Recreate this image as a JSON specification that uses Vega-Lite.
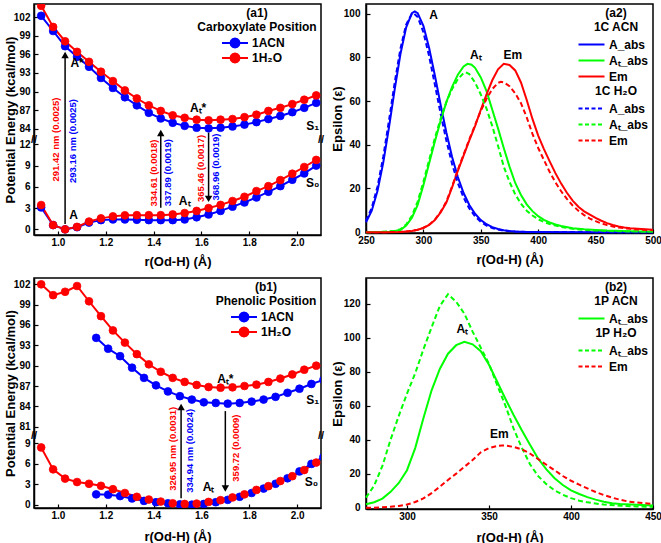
{
"$schema": "https://vega.github.io/schema/vega-lite/v6.json",
"background": "white",
"padding": {"left": 3, "top": 3, "right": 0, "bottom": 0},
"bounds": "flush",
"columns": 2,
"spacing": {"row": 43, "column": 45},
"resolve": {"scale": {"x": "independent", "y": "independent", "color": "independent", "fill": "independent", "stroke": "independent", "shape": "independent"}},
"datasets": {
"a1": [
{"x":0.93,"v":102.2,"s":"1ACN","st":"S1"},{"x":0.98,"v":99.75,"s":"1ACN","st":"S1"},{"x":1.03,"v":97.3,"s":"1ACN","st":"S1"},{"x":1.08,"v":95.6,"s":"1ACN","st":"S1"},{"x":1.13,"v":94.0,"s":"1ACN","st":"S1"},{"x":1.18,"v":92.2,"s":"1ACN","st":"S1"},{"x":1.23,"v":90.6,"s":"1ACN","st":"S1"},{"x":1.28,"v":89.1,"s":"1ACN","st":"S1"},{"x":1.33,"v":87.8,"s":"1ACN","st":"S1"},{"x":1.38,"v":86.6,"s":"1ACN","st":"S1"},{"x":1.43,"v":85.7,"s":"1ACN","st":"S1"},{"x":1.48,"v":85.0,"s":"1ACN","st":"S1"},{"x":1.53,"v":84.5,"s":"1ACN","st":"S1"},{"x":1.58,"v":84.2,"s":"1ACN","st":"S1"},{"x":1.63,"v":84.1,"s":"1ACN","st":"S1"},{"x":1.68,"v":84.2,"s":"1ACN","st":"S1"},{"x":1.73,"v":84.4,"s":"1ACN","st":"S1"},{"x":1.78,"v":84.7,"s":"1ACN","st":"S1"},{"x":1.83,"v":85.1,"s":"1ACN","st":"S1"},{"x":1.88,"v":85.6,"s":"1ACN","st":"S1"},{"x":1.93,"v":86.1,"s":"1ACN","st":"S1"},{"x":1.98,"v":86.7,"s":"1ACN","st":"S1"},{"x":2.03,"v":87.4,"s":"1ACN","st":"S1"},{"x":2.08,"v":88.2,"s":"1ACN","st":"S1"},
{"x":0.93,"v":3.1,"s":"1ACN","st":"S0"},{"x":0.98,"v":0.6,"s":"1ACN","st":"S0"},{"x":1.03,"v":0,"s":"1ACN","st":"S0"},{"x":1.08,"v":0.3,"s":"1ACN","st":"S0"},{"x":1.13,"v":0.95,"s":"1ACN","st":"S0"},{"x":1.18,"v":1.3,"s":"1ACN","st":"S0"},{"x":1.23,"v":1.4,"s":"1ACN","st":"S0"},{"x":1.28,"v":1.4,"s":"1ACN","st":"S0"},{"x":1.33,"v":1.35,"s":"1ACN","st":"S0"},{"x":1.38,"v":1.3,"s":"1ACN","st":"S0"},{"x":1.43,"v":1.3,"s":"1ACN","st":"S0"},{"x":1.48,"v":1.3,"s":"1ACN","st":"S0"},{"x":1.53,"v":1.4,"s":"1ACN","st":"S0"},{"x":1.58,"v":1.7,"s":"1ACN","st":"S0"},{"x":1.63,"v":2.1,"s":"1ACN","st":"S0"},{"x":1.68,"v":2.6,"s":"1ACN","st":"S0"},{"x":1.73,"v":3.2,"s":"1ACN","st":"S0"},{"x":1.78,"v":3.8,"s":"1ACN","st":"S0"},{"x":1.83,"v":4.5,"s":"1ACN","st":"S0"},{"x":1.88,"v":5.3,"s":"1ACN","st":"S0"},{"x":1.93,"v":6.1,"s":"1ACN","st":"S0"},{"x":1.98,"v":7.0,"s":"1ACN","st":"S0"},{"x":2.03,"v":7.9,"s":"1ACN","st":"S0"},{"x":2.08,"v":9.0,"s":"1ACN","st":"S0"},
{"x":0.93,"v":103.8,"s":"1H₂O","st":"S1"},{"x":0.98,"v":100.4,"s":"1H₂O","st":"S1"},{"x":1.03,"v":98.1,"s":"1H₂O","st":"S1"},{"x":1.08,"v":96.4,"s":"1H₂O","st":"S1"},{"x":1.13,"v":94.8,"s":"1H₂O","st":"S1"},{"x":1.18,"v":93.2,"s":"1H₂O","st":"S1"},{"x":1.23,"v":91.7,"s":"1H₂O","st":"S1"},{"x":1.28,"v":90.2,"s":"1H₂O","st":"S1"},{"x":1.33,"v":88.9,"s":"1H₂O","st":"S1"},{"x":1.38,"v":87.8,"s":"1H₂O","st":"S1"},{"x":1.43,"v":86.9,"s":"1H₂O","st":"S1"},{"x":1.48,"v":86.2,"s":"1H₂O","st":"S1"},{"x":1.53,"v":85.8,"s":"1H₂O","st":"S1"},{"x":1.58,"v":85.5,"s":"1H₂O","st":"S1"},{"x":1.63,"v":85.4,"s":"1H₂O","st":"S1"},{"x":1.68,"v":85.5,"s":"1H₂O","st":"S1"},{"x":1.73,"v":85.6,"s":"1H₂O","st":"S1"},{"x":1.78,"v":85.9,"s":"1H₂O","st":"S1"},{"x":1.83,"v":86.3,"s":"1H₂O","st":"S1"},{"x":1.88,"v":86.9,"s":"1H₂O","st":"S1"},{"x":1.93,"v":87.4,"s":"1H₂O","st":"S1"},{"x":1.98,"v":88.0,"s":"1H₂O","st":"S1"},{"x":2.03,"v":88.7,"s":"1H₂O","st":"S1"},{"x":2.08,"v":89.4,"s":"1H₂O","st":"S1"},
{"x":0.93,"v":3.43,"s":"1H₂O","st":"S0"},{"x":0.98,"v":0.6,"s":"1H₂O","st":"S0"},{"x":1.03,"v":0,"s":"1H₂O","st":"S0"},{"x":1.08,"v":0.35,"s":"1H₂O","st":"S0"},{"x":1.13,"v":1.1,"s":"1H₂O","st":"S0"},{"x":1.18,"v":1.55,"s":"1H₂O","st":"S0"},{"x":1.23,"v":1.83,"s":"1H₂O","st":"S0"},{"x":1.28,"v":1.98,"s":"1H₂O","st":"S0"},{"x":1.33,"v":2.0,"s":"1H₂O","st":"S0"},{"x":1.38,"v":2.0,"s":"1H₂O","st":"S0"},{"x":1.43,"v":2.0,"s":"1H₂O","st":"S0"},{"x":1.48,"v":2.1,"s":"1H₂O","st":"S0"},{"x":1.53,"v":2.3,"s":"1H₂O","st":"S0"},{"x":1.58,"v":2.6,"s":"1H₂O","st":"S0"},{"x":1.63,"v":3.0,"s":"1H₂O","st":"S0"},{"x":1.68,"v":3.45,"s":"1H₂O","st":"S0"},{"x":1.73,"v":4.0,"s":"1H₂O","st":"S0"},{"x":1.78,"v":4.6,"s":"1H₂O","st":"S0"},{"x":1.83,"v":5.4,"s":"1H₂O","st":"S0"},{"x":1.88,"v":6.1,"s":"1H₂O","st":"S0"},{"x":1.93,"v":6.95,"s":"1H₂O","st":"S0"},{"x":1.98,"v":7.85,"s":"1H₂O","st":"S0"},{"x":2.03,"v":8.8,"s":"1H₂O","st":"S0"},{"x":2.08,"v":9.8,"s":"1H₂O","st":"S0"}
],
"b1": [
{"x":1.16,"v":94.1,"s":"1ACN","st":"S1"},{"x":1.21,"v":92.5,"s":"1ACN","st":"S1"},{"x":1.26,"v":91.4,"s":"1ACN","st":"S1"},{"x":1.31,"v":89.7,"s":"1ACN","st":"S1"},{"x":1.36,"v":88.2,"s":"1ACN","st":"S1"},{"x":1.41,"v":87.1,"s":"1ACN","st":"S1"},{"x":1.46,"v":86.2,"s":"1ACN","st":"S1"},{"x":1.51,"v":85.5,"s":"1ACN","st":"S1"},{"x":1.56,"v":85.0,"s":"1ACN","st":"S1"},{"x":1.61,"v":84.6,"s":"1ACN","st":"S1"},{"x":1.66,"v":84.5,"s":"1ACN","st":"S1"},{"x":1.71,"v":84.4,"s":"1ACN","st":"S1"},{"x":1.76,"v":84.5,"s":"1ACN","st":"S1"},{"x":1.81,"v":84.7,"s":"1ACN","st":"S1"},{"x":1.86,"v":85.0,"s":"1ACN","st":"S1"},{"x":1.91,"v":85.4,"s":"1ACN","st":"S1"},{"x":1.96,"v":86.0,"s":"1ACN","st":"S1"},{"x":2.01,"v":86.6,"s":"1ACN","st":"S1"},{"x":2.06,"v":87.3,"s":"1ACN","st":"S1"},{"x":2.11,"v":87.9,"s":"1ACN","st":"S1"},
{"x":1.16,"v":1.55,"s":"1ACN","st":"S0"},{"x":1.21,"v":1.5,"s":"1ACN","st":"S0"},{"x":1.26,"v":1.3,"s":"1ACN","st":"S0"},{"x":1.31,"v":0.95,"s":"1ACN","st":"S0"},{"x":1.36,"v":0.6,"s":"1ACN","st":"S0"},{"x":1.41,"v":0.4,"s":"1ACN","st":"S0"},{"x":1.46,"v":0.25,"s":"1ACN","st":"S0"},{"x":1.51,"v":0.1,"s":"1ACN","st":"S0"},{"x":1.56,"v":0.05,"s":"1ACN","st":"S0"},{"x":1.61,"v":0.15,"s":"1ACN","st":"S0"},{"x":1.66,"v":0.4,"s":"1ACN","st":"S0"},{"x":1.71,"v":0.75,"s":"1ACN","st":"S0"},{"x":1.76,"v":1.2,"s":"1ACN","st":"S0"},{"x":1.81,"v":1.75,"s":"1ACN","st":"S0"},{"x":1.86,"v":2.4,"s":"1ACN","st":"S0"},{"x":1.91,"v":3.1,"s":"1ACN","st":"S0"},{"x":1.96,"v":3.9,"s":"1ACN","st":"S0"},{"x":2.01,"v":4.9,"s":"1ACN","st":"S0"},{"x":2.06,"v":6.0,"s":"1ACN","st":"S0"},{"x":2.11,"v":7.0,"s":"1ACN","st":"S0"},
{"x":0.93,"v":102.0,"s":"1H₂O","st":"S1"},{"x":0.98,"v":100.4,"s":"1H₂O","st":"S1"},{"x":1.03,"v":100.9,"s":"1H₂O","st":"S1"},{"x":1.08,"v":101.75,"s":"1H₂O","st":"S1"},{"x":1.13,"v":99.5,"s":"1H₂O","st":"S1"},{"x":1.18,"v":97.3,"s":"1H₂O","st":"S1"},{"x":1.23,"v":95.2,"s":"1H₂O","st":"S1"},{"x":1.28,"v":93.4,"s":"1H₂O","st":"S1"},{"x":1.33,"v":91.7,"s":"1H₂O","st":"S1"},{"x":1.38,"v":90.2,"s":"1H₂O","st":"S1"},{"x":1.43,"v":89.1,"s":"1H₂O","st":"S1"},{"x":1.48,"v":88.2,"s":"1H₂O","st":"S1"},{"x":1.53,"v":87.6,"s":"1H₂O","st":"S1"},{"x":1.58,"v":87.15,"s":"1H₂O","st":"S1"},{"x":1.63,"v":86.85,"s":"1H₂O","st":"S1"},{"x":1.68,"v":86.75,"s":"1H₂O","st":"S1"},{"x":1.73,"v":86.8,"s":"1H₂O","st":"S1"},{"x":1.78,"v":87.0,"s":"1H₂O","st":"S1"},{"x":1.83,"v":87.2,"s":"1H₂O","st":"S1"},{"x":1.88,"v":87.6,"s":"1H₂O","st":"S1"},{"x":1.93,"v":88.1,"s":"1H₂O","st":"S1"},{"x":1.98,"v":88.7,"s":"1H₂O","st":"S1"},{"x":2.03,"v":89.4,"s":"1H₂O","st":"S1"},{"x":2.08,"v":90.0,"s":"1H₂O","st":"S1"},
{"x":0.93,"v":8.4,"s":"1H₂O","st":"S0"},{"x":0.98,"v":5.2,"s":"1H₂O","st":"S0"},{"x":1.03,"v":3.85,"s":"1H₂O","st":"S0"},{"x":1.08,"v":3.35,"s":"1H₂O","st":"S0"},{"x":1.13,"v":3.1,"s":"1H₂O","st":"S0"},{"x":1.18,"v":2.8,"s":"1H₂O","st":"S0"},{"x":1.23,"v":2.3,"s":"1H₂O","st":"S0"},{"x":1.28,"v":1.75,"s":"1H₂O","st":"S0"},{"x":1.33,"v":1.2,"s":"1H₂O","st":"S0"},{"x":1.38,"v":0.8,"s":"1H₂O","st":"S0"},{"x":1.43,"v":0.5,"s":"1H₂O","st":"S0"},{"x":1.48,"v":0.25,"s":"1H₂O","st":"S0"},{"x":1.53,"v":0.15,"s":"1H₂O","st":"S0"},{"x":1.58,"v":0.2,"s":"1H₂O","st":"S0"},{"x":1.63,"v":0.45,"s":"1H₂O","st":"S0"},{"x":1.68,"v":0.7,"s":"1H₂O","st":"S0"},{"x":1.73,"v":1.1,"s":"1H₂O","st":"S0"},{"x":1.78,"v":1.55,"s":"1H₂O","st":"S0"},{"x":1.83,"v":2.2,"s":"1H₂O","st":"S0"},{"x":1.88,"v":2.75,"s":"1H₂O","st":"S0"},{"x":1.93,"v":3.5,"s":"1H₂O","st":"S0"},{"x":1.98,"v":4.2,"s":"1H₂O","st":"S0"},{"x":2.03,"v":5.1,"s":"1H₂O","st":"S0"},{"x":2.08,"v":6.2,"s":"1H₂O","st":"S0"}
],
"a2": [
{"x":250,"v":4.5,"s":"A_abs","sol":"ACN"},{"x":255,"v":9.8,"s":"A_abs","sol":"ACN"},{"x":260,"v":18.8,"s":"A_abs","sol":"ACN"},{"x":265,"v":31.7,"s":"A_abs","sol":"ACN"},{"x":270,"v":47.8,"s":"A_abs","sol":"ACN"},{"x":275,"v":65.3,"s":"A_abs","sol":"ACN"},{"x":280,"v":81.5,"s":"A_abs","sol":"ACN"},{"x":285,"v":93.7,"s":"A_abs","sol":"ACN"},{"x":290,"v":100.2,"s":"A_abs","sol":"ACN"},{"x":292.5,"v":101,"s":"A_abs","sol":"ACN"},{"x":295,"v":100.2,"s":"A_abs","sol":"ACN"},{"x":300,"v":94.4,"s":"A_abs","sol":"ACN"},{"x":305,"v":84.3,"s":"A_abs","sol":"ACN"},{"x":310,"v":71.7,"s":"A_abs","sol":"ACN"},{"x":315,"v":58.3,"s":"A_abs","sol":"ACN"},{"x":320,"v":45.6,"s":"A_abs","sol":"ACN"},{"x":325,"v":34.4,"s":"A_abs","sol":"ACN"},{"x":330,"v":25.2,"s":"A_abs","sol":"ACN"},{"x":335,"v":17.9,"s":"A_abs","sol":"ACN"},{"x":340,"v":12.4,"s":"A_abs","sol":"ACN"},{"x":345,"v":8.4,"s":"A_abs","sol":"ACN"},{"x":350,"v":5.5,"s":"A_abs","sol":"ACN"},{"x":355,"v":3.6,"s":"A_abs","sol":"ACN"},{"x":360,"v":2.3,"s":"A_abs","sol":"ACN"},{"x":365,"v":1.4,"s":"A_abs","sol":"ACN"},{"x":370,"v":0.9,"s":"A_abs","sol":"ACN"},{"x":375,"v":0.55,"s":"A_abs","sol":"ACN"},{"x":380,"v":0.34,"s":"A_abs","sol":"ACN"},{"x":390,"v":0.1,"s":"A_abs","sol":"ACN"},{"x":400,"v":0.03,"s":"A_abs","sol":"ACN"},{"x":450,"v":0,"s":"A_abs","sol":"ACN"},{"x":500,"v":0,"s":"A_abs","sol":"ACN"},
{"x":250,"v":0,"s":"Aₜ_abs","sol":"ACN"},{"x":260,"v":0.05,"s":"Aₜ_abs","sol":"ACN"},{"x":270,"v":0.2,"s":"Aₜ_abs","sol":"ACN"},{"x":275,"v":0.5,"s":"Aₜ_abs","sol":"ACN"},{"x":280,"v":1.0,"s":"Aₜ_abs","sol":"ACN"},{"x":285,"v":3.0,"s":"Aₜ_abs","sol":"ACN"},{"x":290,"v":6.6,"s":"Aₜ_abs","sol":"ACN"},{"x":295,"v":12.5,"s":"Aₜ_abs","sol":"ACN"},{"x":300,"v":21.5,"s":"Aₜ_abs","sol":"ACN"},{"x":305,"v":31.5,"s":"Aₜ_abs","sol":"ACN"},{"x":310,"v":41.5,"s":"Aₜ_abs","sol":"ACN"},{"x":315,"v":51,"s":"Aₜ_abs","sol":"ACN"},{"x":320,"v":59.5,"s":"Aₜ_abs","sol":"ACN"},{"x":325,"v":66.5,"s":"Aₜ_abs","sol":"ACN"},{"x":330,"v":72,"s":"Aₜ_abs","sol":"ACN"},{"x":335,"v":75.8,"s":"Aₜ_abs","sol":"ACN"},{"x":338.5,"v":77,"s":"Aₜ_abs","sol":"ACN"},{"x":342,"v":76.6,"s":"Aₜ_abs","sol":"ACN"},{"x":345,"v":75.2,"s":"Aₜ_abs","sol":"ACN"},{"x":350,"v":70.8,"s":"Aₜ_abs","sol":"ACN"},{"x":355,"v":64.5,"s":"Aₜ_abs","sol":"ACN"},{"x":360,"v":56,"s":"Aₜ_abs","sol":"ACN"},{"x":365,"v":47.5,"s":"Aₜ_abs","sol":"ACN"},{"x":370,"v":38.5,"s":"Aₜ_abs","sol":"ACN"},{"x":375,"v":30,"s":"Aₜ_abs","sol":"ACN"},{"x":380,"v":22.5,"s":"Aₜ_abs","sol":"ACN"},{"x":385,"v":17,"s":"Aₜ_abs","sol":"ACN"},{"x":390,"v":12.7,"s":"Aₜ_abs","sol":"ACN"},{"x":395,"v":9.6,"s":"Aₜ_abs","sol":"ACN"},{"x":400,"v":7.3,"s":"Aₜ_abs","sol":"ACN"},{"x":405,"v":5.6,"s":"Aₜ_abs","sol":"ACN"},{"x":410,"v":4.4,"s":"Aₜ_abs","sol":"ACN"},{"x":415,"v":3.5,"s":"Aₜ_abs","sol":"ACN"},{"x":420,"v":2.8,"s":"Aₜ_abs","sol":"ACN"},{"x":430,"v":1.8,"s":"Aₜ_abs","sol":"ACN"},{"x":440,"v":1.3,"s":"Aₜ_abs","sol":"ACN"},{"x":450,"v":1.0,"s":"Aₜ_abs","sol":"ACN"},{"x":460,"v":0.7,"s":"Aₜ_abs","sol":"ACN"},{"x":480,"v":0.4,"s":"Aₜ_abs","sol":"ACN"},{"x":500,"v":0.2,"s":"Aₜ_abs","sol":"ACN"},
{"x":250,"v":0,"s":"Em","sol":"ACN"},{"x":270,"v":0,"s":"Em","sol":"ACN"},{"x":280,"v":0.1,"s":"Em","sol":"ACN"},{"x":285,"v":0.3,"s":"Em","sol":"ACN"},{"x":290,"v":0.5,"s":"Em","sol":"ACN"},{"x":295,"v":1.1,"s":"Em","sol":"ACN"},{"x":300,"v":1.9,"s":"Em","sol":"ACN"},{"x":305,"v":3.3,"s":"Em","sol":"ACN"},{"x":310,"v":5.5,"s":"Em","sol":"ACN"},{"x":315,"v":9,"s":"Em","sol":"ACN"},{"x":320,"v":13.5,"s":"Em","sol":"ACN"},{"x":325,"v":20.5,"s":"Em","sol":"ACN"},{"x":330,"v":28,"s":"Em","sol":"ACN"},{"x":335,"v":35,"s":"Em","sol":"ACN"},{"x":340,"v":42,"s":"Em","sol":"ACN"},{"x":345,"v":48.5,"s":"Em","sol":"ACN"},{"x":350,"v":56,"s":"Em","sol":"ACN"},{"x":355,"v":63,"s":"Em","sol":"ACN"},{"x":360,"v":69.5,"s":"Em","sol":"ACN"},{"x":365,"v":74.5,"s":"Em","sol":"ACN"},{"x":370,"v":77,"s":"Em","sol":"ACN"},{"x":375,"v":76.5,"s":"Em","sol":"ACN"},{"x":380,"v":74,"s":"Em","sol":"ACN"},{"x":385,"v":68.5,"s":"Em","sol":"ACN"},{"x":390,"v":60.5,"s":"Em","sol":"ACN"},{"x":395,"v":51.8,"s":"Em","sol":"ACN"},{"x":400,"v":44.2,"s":"Em","sol":"ACN"},{"x":405,"v":38,"s":"Em","sol":"ACN"},{"x":410,"v":32.4,"s":"Em","sol":"ACN"},{"x":415,"v":27,"s":"Em","sol":"ACN"},{"x":420,"v":22.2,"s":"Em","sol":"ACN"},{"x":425,"v":18,"s":"Em","sol":"ACN"},{"x":430,"v":14.4,"s":"Em","sol":"ACN"},{"x":435,"v":11.6,"s":"Em","sol":"ACN"},{"x":440,"v":9.5,"s":"Em","sol":"ACN"},{"x":445,"v":8,"s":"Em","sol":"ACN"},{"x":450,"v":6.5,"s":"Em","sol":"ACN"},{"x":455,"v":5.2,"s":"Em","sol":"ACN"},{"x":460,"v":4.1,"s":"Em","sol":"ACN"},{"x":465,"v":3.3,"s":"Em","sol":"ACN"},{"x":470,"v":2.6,"s":"Em","sol":"ACN"},{"x":475,"v":2.1,"s":"Em","sol":"ACN"},{"x":480,"v":1.8,"s":"Em","sol":"ACN"},{"x":490,"v":1.4,"s":"Em","sol":"ACN"},{"x":500,"v":1.1,"s":"Em","sol":"ACN"},
{"x":250,"v":5.2,"s":"A_abs","sol":"H2O"},{"x":255,"v":11.1,"s":"A_abs","sol":"H2O"},{"x":260,"v":20.8,"s":"A_abs","sol":"H2O"},{"x":265,"v":34.4,"s":"A_abs","sol":"H2O"},{"x":270,"v":51.0,"s":"A_abs","sol":"H2O"},{"x":275,"v":68.4,"s":"A_abs","sol":"H2O"},{"x":280,"v":84.0,"s":"A_abs","sol":"H2O"},{"x":285,"v":95.0,"s":"A_abs","sol":"H2O"},{"x":290,"v":100.0,"s":"A_abs","sol":"H2O"},{"x":291.3,"v":100.2,"s":"A_abs","sol":"H2O"},{"x":295,"v":98.5,"s":"A_abs","sol":"H2O"},{"x":300,"v":91.5,"s":"A_abs","sol":"H2O"},{"x":305,"v":80.5,"s":"A_abs","sol":"H2O"},{"x":310,"v":67.5,"s":"A_abs","sol":"H2O"},{"x":315,"v":54.2,"s":"A_abs","sol":"H2O"},{"x":320,"v":41.9,"s":"A_abs","sol":"H2O"},{"x":325,"v":31.2,"s":"A_abs","sol":"H2O"},{"x":330,"v":22.5,"s":"A_abs","sol":"H2O"},{"x":335,"v":15.8,"s":"A_abs","sol":"H2O"},{"x":340,"v":10.8,"s":"A_abs","sol":"H2O"},{"x":345,"v":7.2,"s":"A_abs","sol":"H2O"},{"x":350,"v":4.7,"s":"A_abs","sol":"H2O"},{"x":355,"v":3.0,"s":"A_abs","sol":"H2O"},{"x":360,"v":1.9,"s":"A_abs","sol":"H2O"},{"x":365,"v":1.2,"s":"A_abs","sol":"H2O"},{"x":370,"v":0.7,"s":"A_abs","sol":"H2O"},{"x":375,"v":0.45,"s":"A_abs","sol":"H2O"},{"x":380,"v":0.27,"s":"A_abs","sol":"H2O"},{"x":390,"v":0.1,"s":"A_abs","sol":"H2O"},{"x":400,"v":0.03,"s":"A_abs","sol":"H2O"},{"x":450,"v":0,"s":"A_abs","sol":"H2O"},{"x":500,"v":0,"s":"A_abs","sol":"H2O"},
{"x":250,"v":0,"s":"Aₜ_abs","sol":"H2O"},{"x":260,"v":0.06,"s":"Aₜ_abs","sol":"H2O"},{"x":270,"v":0.3,"s":"Aₜ_abs","sol":"H2O"},{"x":275,"v":0.6,"s":"Aₜ_abs","sol":"H2O"},{"x":280,"v":1.3,"s":"Aₜ_abs","sol":"H2O"},{"x":285,"v":3.5,"s":"Aₜ_abs","sol":"H2O"},{"x":290,"v":7.5,"s":"Aₜ_abs","sol":"H2O"},{"x":295,"v":14,"s":"Aₜ_abs","sol":"H2O"},{"x":300,"v":23,"s":"Aₜ_abs","sol":"H2O"},{"x":305,"v":33,"s":"Aₜ_abs","sol":"H2O"},{"x":310,"v":43,"s":"Aₜ_abs","sol":"H2O"},{"x":315,"v":52,"s":"Aₜ_abs","sol":"H2O"},{"x":320,"v":59.5,"s":"Aₜ_abs","sol":"H2O"},{"x":325,"v":65.5,"s":"Aₜ_abs","sol":"H2O"},{"x":330,"v":70,"s":"Aₜ_abs","sol":"H2O"},{"x":335,"v":72.8,"s":"Aₜ_abs","sol":"H2O"},{"x":337,"v":73.1,"s":"Aₜ_abs","sol":"H2O"},{"x":340,"v":72.3,"s":"Aₜ_abs","sol":"H2O"},{"x":345,"v":68.5,"s":"Aₜ_abs","sol":"H2O"},{"x":350,"v":63,"s":"Aₜ_abs","sol":"H2O"},{"x":355,"v":56.5,"s":"Aₜ_abs","sol":"H2O"},{"x":360,"v":48.5,"s":"Aₜ_abs","sol":"H2O"},{"x":365,"v":39.5,"s":"Aₜ_abs","sol":"H2O"},{"x":370,"v":30,"s":"Aₜ_abs","sol":"H2O"},{"x":375,"v":23,"s":"Aₜ_abs","sol":"H2O"},{"x":380,"v":17.3,"s":"Aₜ_abs","sol":"H2O"},{"x":385,"v":13,"s":"Aₜ_abs","sol":"H2O"},{"x":390,"v":9.8,"s":"Aₜ_abs","sol":"H2O"},{"x":395,"v":7.6,"s":"Aₜ_abs","sol":"H2O"},{"x":400,"v":5.9,"s":"Aₜ_abs","sol":"H2O"},{"x":405,"v":4.6,"s":"Aₜ_abs","sol":"H2O"},{"x":410,"v":3.7,"s":"Aₜ_abs","sol":"H2O"},{"x":415,"v":3.0,"s":"Aₜ_abs","sol":"H2O"},{"x":420,"v":2.4,"s":"Aₜ_abs","sol":"H2O"},{"x":430,"v":1.5,"s":"Aₜ_abs","sol":"H2O"},{"x":440,"v":1.0,"s":"Aₜ_abs","sol":"H2O"},{"x":450,"v":0.7,"s":"Aₜ_abs","sol":"H2O"},{"x":460,"v":0.5,"s":"Aₜ_abs","sol":"H2O"},{"x":480,"v":0.3,"s":"Aₜ_abs","sol":"H2O"},{"x":500,"v":0.15,"s":"Aₜ_abs","sol":"H2O"},
{"x":250,"v":0,"s":"Em","sol":"H2O"},{"x":270,"v":0,"s":"Em","sol":"H2O"},{"x":280,"v":0.1,"s":"Em","sol":"H2O"},{"x":285,"v":0.3,"s":"Em","sol":"H2O"},{"x":290,"v":0.5,"s":"Em","sol":"H2O"},{"x":295,"v":1.1,"s":"Em","sol":"H2O"},{"x":300,"v":2.0,"s":"Em","sol":"H2O"},{"x":305,"v":3.4,"s":"Em","sol":"H2O"},{"x":310,"v":5.7,"s":"Em","sol":"H2O"},{"x":315,"v":9.3,"s":"Em","sol":"H2O"},{"x":320,"v":14,"s":"Em","sol":"H2O"},{"x":325,"v":21,"s":"Em","sol":"H2O"},{"x":330,"v":28.5,"s":"Em","sol":"H2O"},{"x":335,"v":35.5,"s":"Em","sol":"H2O"},{"x":340,"v":42.5,"s":"Em","sol":"H2O"},{"x":345,"v":49,"s":"Em","sol":"H2O"},{"x":350,"v":55.5,"s":"Em","sol":"H2O"},{"x":355,"v":61,"s":"Em","sol":"H2O"},{"x":360,"v":65.5,"s":"Em","sol":"H2O"},{"x":365,"v":68.3,"s":"Em","sol":"H2O"},{"x":367.5,"v":68.8,"s":"Em","sol":"H2O"},{"x":370,"v":68.5,"s":"Em","sol":"H2O"},{"x":375,"v":66.8,"s":"Em","sol":"H2O"},{"x":380,"v":63.5,"s":"Em","sol":"H2O"},{"x":385,"v":59,"s":"Em","sol":"H2O"},{"x":390,"v":52.5,"s":"Em","sol":"H2O"},{"x":395,"v":45,"s":"Em","sol":"H2O"},{"x":400,"v":38.5,"s":"Em","sol":"H2O"},{"x":405,"v":33,"s":"Em","sol":"H2O"},{"x":410,"v":27.5,"s":"Em","sol":"H2O"},{"x":415,"v":22.8,"s":"Em","sol":"H2O"},{"x":420,"v":18.7,"s":"Em","sol":"H2O"},{"x":425,"v":15.2,"s":"Em","sol":"H2O"},{"x":430,"v":12.2,"s":"Em","sol":"H2O"},{"x":435,"v":9.8,"s":"Em","sol":"H2O"},{"x":440,"v":7.8,"s":"Em","sol":"H2O"},{"x":445,"v":6.2,"s":"Em","sol":"H2O"},{"x":450,"v":5.0,"s":"Em","sol":"H2O"},{"x":455,"v":4.0,"s":"Em","sol":"H2O"},{"x":460,"v":3.2,"s":"Em","sol":"H2O"},{"x":465,"v":2.6,"s":"Em","sol":"H2O"},{"x":470,"v":2.1,"s":"Em","sol":"H2O"},{"x":475,"v":1.8,"s":"Em","sol":"H2O"},{"x":480,"v":1.5,"s":"Em","sol":"H2O"},{"x":490,"v":1.1,"s":"Em","sol":"H2O"},{"x":500,"v":0.9,"s":"Em","sol":"H2O"}
],
"b2": [
{"x":275,"v":2.0,"s":"Aₜ_abs","sol":"ACN"},{"x":280,"v":3.2,"s":"Aₜ_abs","sol":"ACN"},{"x":285,"v":5.3,"s":"Aₜ_abs","sol":"ACN"},{"x":290,"v":9.3,"s":"Aₜ_abs","sol":"ACN"},{"x":295,"v":14.5,"s":"Aₜ_abs","sol":"ACN"},{"x":300,"v":22,"s":"Aₜ_abs","sol":"ACN"},{"x":305,"v":35,"s":"Aₜ_abs","sol":"ACN"},{"x":310,"v":52.5,"s":"Aₜ_abs","sol":"ACN"},{"x":315,"v":69,"s":"Aₜ_abs","sol":"ACN"},{"x":320,"v":81.5,"s":"Aₜ_abs","sol":"ACN"},{"x":325,"v":90.5,"s":"Aₜ_abs","sol":"ACN"},{"x":330,"v":95.5,"s":"Aₜ_abs","sol":"ACN"},{"x":335,"v":97.5,"s":"Aₜ_abs","sol":"ACN"},{"x":340,"v":96,"s":"Aₜ_abs","sol":"ACN"},{"x":345,"v":92,"s":"Aₜ_abs","sol":"ACN"},{"x":350,"v":84,"s":"Aₜ_abs","sol":"ACN"},{"x":355,"v":74,"s":"Aₜ_abs","sol":"ACN"},{"x":360,"v":64,"s":"Aₜ_abs","sol":"ACN"},{"x":365,"v":54.5,"s":"Aₜ_abs","sol":"ACN"},{"x":370,"v":45.5,"s":"Aₜ_abs","sol":"ACN"},{"x":375,"v":37,"s":"Aₜ_abs","sol":"ACN"},{"x":380,"v":28.8,"s":"Aₜ_abs","sol":"ACN"},{"x":385,"v":22.5,"s":"Aₜ_abs","sol":"ACN"},{"x":390,"v":17.3,"s":"Aₜ_abs","sol":"ACN"},{"x":395,"v":13.3,"s":"Aₜ_abs","sol":"ACN"},{"x":400,"v":10.2,"s":"Aₜ_abs","sol":"ACN"},{"x":405,"v":8,"s":"Aₜ_abs","sol":"ACN"},{"x":410,"v":6.2,"s":"Aₜ_abs","sol":"ACN"},{"x":415,"v":4.7,"s":"Aₜ_abs","sol":"ACN"},{"x":420,"v":3.5,"s":"Aₜ_abs","sol":"ACN"},{"x":425,"v":2.6,"s":"Aₜ_abs","sol":"ACN"},{"x":430,"v":2.1,"s":"Aₜ_abs","sol":"ACN"},{"x":440,"v":1.7,"s":"Aₜ_abs","sol":"ACN"},{"x":450,"v":1.3,"s":"Aₜ_abs","sol":"ACN"},
{"x":275,"v":5.9,"s":"Aₜ_abs","sol":"H2O"},{"x":280,"v":13,"s":"Aₜ_abs","sol":"H2O"},{"x":285,"v":24.5,"s":"Aₜ_abs","sol":"H2O"},{"x":290,"v":40,"s":"Aₜ_abs","sol":"H2O"},{"x":295,"v":54,"s":"Aₜ_abs","sol":"H2O"},{"x":300,"v":67,"s":"Aₜ_abs","sol":"H2O"},{"x":305,"v":79,"s":"Aₜ_abs","sol":"H2O"},{"x":310,"v":93,"s":"Aₜ_abs","sol":"H2O"},{"x":315,"v":106,"s":"Aₜ_abs","sol":"H2O"},{"x":320,"v":118.5,"s":"Aₜ_abs","sol":"H2O"},{"x":325,"v":125.5,"s":"Aₜ_abs","sol":"H2O"},{"x":330,"v":121,"s":"Aₜ_abs","sol":"H2O"},{"x":335,"v":114,"s":"Aₜ_abs","sol":"H2O"},{"x":340,"v":103.5,"s":"Aₜ_abs","sol":"H2O"},{"x":345,"v":94,"s":"Aₜ_abs","sol":"H2O"},{"x":350,"v":84.5,"s":"Aₜ_abs","sol":"H2O"},{"x":355,"v":72,"s":"Aₜ_abs","sol":"H2O"},{"x":360,"v":60,"s":"Aₜ_abs","sol":"H2O"},{"x":365,"v":46.5,"s":"Aₜ_abs","sol":"H2O"},{"x":370,"v":35.2,"s":"Aₜ_abs","sol":"H2O"},{"x":375,"v":25.5,"s":"Aₜ_abs","sol":"H2O"},{"x":380,"v":18.5,"s":"Aₜ_abs","sol":"H2O"},{"x":385,"v":13.8,"s":"Aₜ_abs","sol":"H2O"},{"x":390,"v":10.2,"s":"Aₜ_abs","sol":"H2O"},{"x":395,"v":7.6,"s":"Aₜ_abs","sol":"H2O"},{"x":400,"v":5.6,"s":"Aₜ_abs","sol":"H2O"},{"x":405,"v":4.1,"s":"Aₜ_abs","sol":"H2O"},{"x":410,"v":3.1,"s":"Aₜ_abs","sol":"H2O"},{"x":420,"v":1.8,"s":"Aₜ_abs","sol":"H2O"},{"x":430,"v":1.1,"s":"Aₜ_abs","sol":"H2O"},{"x":440,"v":0.7,"s":"Aₜ_abs","sol":"H2O"},{"x":450,"v":0.5,"s":"Aₜ_abs","sol":"H2O"},
{"x":275,"v":0,"s":"Em","sol":"H2O"},{"x":280,"v":0,"s":"Em","sol":"H2O"},{"x":285,"v":0.2,"s":"Em","sol":"H2O"},{"x":290,"v":0.5,"s":"Em","sol":"H2O"},{"x":295,"v":1.0,"s":"Em","sol":"H2O"},{"x":300,"v":1.8,"s":"Em","sol":"H2O"},{"x":305,"v":3.3,"s":"Em","sol":"H2O"},{"x":310,"v":5.4,"s":"Em","sol":"H2O"},{"x":315,"v":8.5,"s":"Em","sol":"H2O"},{"x":320,"v":12.3,"s":"Em","sol":"H2O"},{"x":325,"v":16.3,"s":"Em","sol":"H2O"},{"x":330,"v":20,"s":"Em","sol":"H2O"},{"x":335,"v":24,"s":"Em","sol":"H2O"},{"x":340,"v":28,"s":"Em","sol":"H2O"},{"x":345,"v":32.5,"s":"Em","sol":"H2O"},{"x":350,"v":35,"s":"Em","sol":"H2O"},{"x":355,"v":36.3,"s":"Em","sol":"H2O"},{"x":358,"v":36.6,"s":"Em","sol":"H2O"},{"x":360,"v":36.5,"s":"Em","sol":"H2O"},{"x":365,"v":35.7,"s":"Em","sol":"H2O"},{"x":370,"v":34.3,"s":"Em","sol":"H2O"},{"x":375,"v":31.8,"s":"Em","sol":"H2O"},{"x":380,"v":28.5,"s":"Em","sol":"H2O"},{"x":385,"v":25.2,"s":"Em","sol":"H2O"},{"x":390,"v":22,"s":"Em","sol":"H2O"},{"x":395,"v":18.6,"s":"Em","sol":"H2O"},{"x":400,"v":15.8,"s":"Em","sol":"H2O"},{"x":405,"v":13.5,"s":"Em","sol":"H2O"},{"x":410,"v":11.3,"s":"Em","sol":"H2O"},{"x":415,"v":9.2,"s":"Em","sol":"H2O"},{"x":420,"v":7.4,"s":"Em","sol":"H2O"},{"x":425,"v":5.9,"s":"Em","sol":"H2O"},{"x":430,"v":4.6,"s":"Em","sol":"H2O"},{"x":435,"v":3.6,"s":"Em","sol":"H2O"},{"x":440,"v":3.0,"s":"Em","sol":"H2O"},{"x":445,"v":2.6,"s":"Em","sol":"H2O"},{"x":450,"v":2.2,"s":"Em","sol":"H2O"}
],
"a1_rules": [{"x":1.03,"y":0.75,"y2":95.8},{"x":1.43,"y":3.05,"y2":83.3},{"x":1.63,"y":4.3,"y2":83.4}],
"a1_heads": [{"x":1.03,"y":95.9,"dir":"up"},{"x":1.43,"y":83.35,"dir":"up"},{"x":1.63,"y":4.3,"dir":"down"}],
"a1_lab": [{"x":1.08,"y":94.65,"t":"A*"},{"x":1.586,"y":87.3,"t":"Aₜ*"},{"x":2.065,"y":84.5,"t":"S₁"},{"x":1.065,"y":2.0,"t":"A"},{"x":1.53,"y":4.0,"t":"Aₜ"},{"x":2.065,"y":6.5,"t":"S₀"}],
"a1_txt": [{"x":0.992,"y":56,"t":"291.42 nm (0.0025)","s":"1H₂O"},{"x":1.062,"y":30,"t":"293.16 nm (0.0025)","s":"1ACN"},{"x":1.40,"y":7.95,"t":"334.61 (0.0018)","s":"1H₂O"},{"x":1.46,"y":8.0,"t":"337.89 (0.0019)","s":"1ACN"},{"x":1.60,"y":8.6,"t":"365.46 (0.0017)","s":"1H₂O"},{"x":1.66,"y":8.8,"t":"368.96 (0.0019)","s":"1ACN"}],
"a1_brk": [{"x":0.9,"y":47},{"x":2.1,"y":47}],
"b1_rules": [{"x":1.515,"y":1.0,"y2":83.9},{"x":1.70,"y":2.4,"y2":83.3}],
"b1_heads": [{"x":1.515,"y":83.9,"dir":"up"},{"x":1.70,"y":2.4,"dir":"down"}],
"b1_lab": [{"x":1.70,"y":88.1,"t":"Aₜ*"},{"x":2.065,"y":84.9,"t":"S₁"},{"x":1.63,"y":2.57,"t":"Aₜ"},{"x":2.06,"y":3.4,"t":"S₀"}],
"b1_txt": [{"x":1.4825,"y":8.2,"t":"326.95 nm (0.0031)","s":"1H₂O"},{"x":1.551,"y":7.9,"t":"334.94 nm (0.0024)","s":"1ACN"},{"x":1.746,"y":8.3,"t":"359.72 (0.0009)","s":"1H₂O"}],
"b1_brk": [{"x":0.9,"y":45},{"x":2.1,"y":45}],
"a2_lab": [{"x":308.9,"y":99.5,"t":"A"},{"x":345.6,"y":81.2,"t":"Aₜ"},{"x":378,"y":81.2,"t":"Em"}],
"b2_lab": [{"x":333.8,"y":104.8,"t":"Aₜ"},{"x":356.3,"y":43.1,"t":"Em"}]
},
"concat": [
{
"width": 287, "height": 231,
"encoding": {
  "x": {"field": "x", "type": "quantitative", "scale": {"domain": [0.9, 2.1], "nice": false, "zero": false}, "axis": {"values": [1, 1.2, 1.4, 1.6, 1.8, 2], "format": ".1f", "title": "r(Od-H) (Å)", "titlePadding": 8}},
  "y": {"field": "v", "type": "quantitative", "scale": {"domain": [-0.8, 12.33, 82.55, 104.09], "range": [231, 138, 134, 0], "nice": false, "zero": false}, "axis": {"values": [0, 3, 6, 9, 12, 84, 87, 90, 93, 96, 99, 102], "title": "Potential Energy (kcal/mol)", "titleX": -20, "titleBaseline": "alphabetic", "labelPadding": 8}}
},
"layer": [
{"data": {"name": "a1"}, "mark": {"type": "line", "strokeWidth": 2, "clip": true},
 "encoding": {
  "detail": {"field": "st"},
  "stroke": {"field": "s", "type": "nominal", "scale": {"domain": ["1ACN", "1H₂O"], "range": ["#0000ff", "#ff0000"]}, "legend": {"title": ["(a1)", "Carboxylate Position"], "symbolType": "M-2.6,0L2.6,0M0.9,0L0.78,0.45L0.45,0.78L0,0.9L-0.45,0.78L-0.78,0.45L-0.9,0L-0.78,-0.45L-0.45,-0.78L0,-0.9L0.45,-0.78L0.78,-0.45Z", "symbolSize": 100, "labelOffset": 11, "rowPadding": -3}}
 }},
{"data": {"name": "a1"}, "mark": {"type": "point", "filled": true, "size": 60, "opacity": 1, "strokeWidth": 0.8, "clip": true},
 "encoding": {
  "fill": {"field": "s", "type": "nominal", "scale": {"domain": ["1ACN", "1H₂O"], "range": ["#0000ff", "#ff0000"]}, "legend": {"title": ["(a1)", "Carboxylate Position"], "symbolType": "M-2.6,0L2.6,0M0.9,0L0.78,0.45L0.45,0.78L0,0.9L-0.45,0.78L-0.78,0.45L-0.9,0L-0.78,-0.45L-0.45,-0.78L0,-0.9L0.45,-0.78L0.78,-0.45Z", "symbolSize": 100, "labelOffset": 11, "rowPadding": -3}},
  "stroke": {"field": "s", "type": "nominal", "scale": {"domain": ["1ACN", "1H₂O"], "range": ["#0000ff", "#ff0000"]}, "legend": {"title": ["(a1)", "Carboxylate Position"], "symbolType": "M-2.6,0L2.6,0M0.9,0L0.78,0.45L0.45,0.78L0,0.9L-0.45,0.78L-0.78,0.45L-0.9,0L-0.78,-0.45L-0.45,-0.78L0,-0.9L0.45,-0.78L0.78,-0.45Z", "symbolSize": 100, "labelOffset": 11, "rowPadding": -3}}
 }},
{"data": {"name": "a1_rules"}, "mark": {"type": "rule", "strokeWidth": 1.5, "color": "black"},
 "encoding": {"y": {"field": "y", "type": "quantitative"}, "y2": {"field": "y2"}}},
{"data": {"name": "a1_heads"}, "mark": {"type": "point", "filled": true, "color": "black", "size": 55, "opacity": 1},
 "encoding": {"y": {"field": "y", "type": "quantitative"}, "shape": {"field": "dir", "type": "nominal", "scale": {"domain": ["up", "down"], "range": ["triangle-up", "triangle-down"]}, "legend": null}}},
{"data": {"name": "a1_lab"}, "mark": {"type": "text", "fontSize": 12, "fontWeight": "bold", "color": "black"},
 "encoding": {"y": {"field": "y", "type": "quantitative"}, "text": {"field": "t"}}},
{"data": {"name": "a1_txt"}, "mark": {"type": "text", "fontSize": 9.5, "fontWeight": "bold", "angle": 270, "align": "center", "baseline": "middle"},
 "encoding": {"y": {"field": "y", "type": "quantitative"}, "text": {"field": "t"}, "fill": {"field": "s", "type": "nominal", "scale": {"domain": ["1ACN", "1H₂O"], "range": ["#0000ff", "#ff0000"]}, "legend": null}}},
{"data": {"name": "a1_brk"}, "mark": {"type": "text", "text": "//", "fontSize": 11, "fontWeight": "bold", "color": "black"},
 "encoding": {"y": {"field": "y", "type": "quantitative"}}}
]
},
{
"width": 287, "height": 229,
"encoding": {
  "x": {"field": "x", "type": "quantitative", "scale": {"domain": [250, 500], "nice": false, "zero": false}, "axis": {"values": [250, 300, 350, 400, 450, 500], "title": "r(Od-H) (Å)", "titlePadding": 8}},
  "y": {"field": "v", "type": "quantitative", "scale": {"domain": [-0.4, 104.4], "nice": false, "zero": false}, "axis": {"values": [0, 20, 40, 60, 80, 100], "title": "Epsilon (ε)", "titleX": -25, "titleBaseline": "alphabetic", "labelPadding": 10}}
},
"layer": [
{"data": {"name": "a2"}, "transform": [{"filter": "datum.sol == 'ACN'"}], "mark": {"type": "line", "strokeWidth": 2},
 "encoding": {
  "color": {"field": "s", "type": "nominal", "scale": {"domain": ["A_abs", "Aₜ_abs", "Em"], "range": ["#0000ff", "#00ff00", "#ff0000"]}, "legend": {"title": ["(a2)", "1C ACN"], "symbolType": "M-2,0L2,0", "symbolSize": 169, "labelOffset": 10}}
 }},
{"data": {"name": "a2"}, "transform": [{"filter": "datum.sol == 'H2O'"}], "mark": {"type": "line", "strokeWidth": 2, "strokeDash": [5, 3]},
 "encoding": {
  "color": {"field": "s", "type": "nominal", "scale": {"domain": ["A_abs", "Aₜ_abs", "Em"], "range": ["#0000ff", "#00ff00", "#ff0000"]}, "legend": {"title": "1C H₂O", "symbolType": "M-2,0L2,0", "symbolSize": 169, "labelOffset": 10, "symbolDash": [4, 2.5]}}
 }},
{"data": {"name": "a2_lab"}, "mark": {"type": "text", "fontSize": 12, "fontWeight": "bold", "color": "black"},
 "encoding": {"y": {"field": "y", "type": "quantitative"}, "text": {"field": "t"}}}
],
"resolve": {"scale": {"color": "independent"}}
},
{
"width": 287, "height": 230,
"encoding": {
  "x": {"field": "x", "type": "quantitative", "scale": {"domain": [0.9, 2.1], "nice": false, "zero": false}, "axis": {"values": [1, 1.2, 1.4, 1.6, 1.8, 2], "format": ".1f", "title": "r(Od-H) (Å)", "titlePadding": 10}},
  "y": {"field": "v", "type": "quantitative", "scale": {"domain": [-0.44, 9.78, 79.92, 102.93], "range": [230, 160, 156, 0], "nice": false, "zero": false}, "axis": {"values": [0, 3, 6, 9, 81, 84, 87, 90, 93, 96, 99, 102], "title": "Potential Energy (kcal/mol)", "titleX": -20, "titleBaseline": "alphabetic", "labelPadding": 8}}
},
"layer": [
{"data": {"name": "b1"}, "mark": {"type": "line", "strokeWidth": 2, "clip": true},
 "encoding": {
  "detail": {"field": "st"},
  "stroke": {"field": "s", "type": "nominal", "scale": {"domain": ["1ACN", "1H₂O"], "range": ["#0000ff", "#ff0000"]}, "legend": {"title": ["(b1)", "Phenolic Position"], "symbolType": "M-2.6,0L2.6,0M0.9,0L0.78,0.45L0.45,0.78L0,0.9L-0.45,0.78L-0.78,0.45L-0.9,0L-0.78,-0.45L-0.45,-0.78L0,-0.9L0.45,-0.78L0.78,-0.45Z", "symbolSize": 100, "labelOffset": 11, "rowPadding": -3}}
 }},
{"data": {"name": "b1"}, "mark": {"type": "point", "filled": true, "size": 60, "opacity": 1, "strokeWidth": 0.8, "clip": true},
 "encoding": {
  "fill": {"field": "s", "type": "nominal", "scale": {"domain": ["1ACN", "1H₂O"], "range": ["#0000ff", "#ff0000"]}, "legend": {"title": ["(b1)", "Phenolic Position"], "symbolType": "M-2.6,0L2.6,0M0.9,0L0.78,0.45L0.45,0.78L0,0.9L-0.45,0.78L-0.78,0.45L-0.9,0L-0.78,-0.45L-0.45,-0.78L0,-0.9L0.45,-0.78L0.78,-0.45Z", "symbolSize": 100, "labelOffset": 11, "rowPadding": -3}},
  "stroke": {"field": "s", "type": "nominal", "scale": {"domain": ["1ACN", "1H₂O"], "range": ["#0000ff", "#ff0000"]}, "legend": {"title": ["(b1)", "Phenolic Position"], "symbolType": "M-2.6,0L2.6,0M0.9,0L0.78,0.45L0.45,0.78L0,0.9L-0.45,0.78L-0.78,0.45L-0.9,0L-0.78,-0.45L-0.45,-0.78L0,-0.9L0.45,-0.78L0.78,-0.45Z", "symbolSize": 100, "labelOffset": 11, "rowPadding": -3}}
 }},
{"data": {"name": "b1_rules"}, "mark": {"type": "rule", "strokeWidth": 1.5, "color": "black"},
 "encoding": {"y": {"field": "y", "type": "quantitative"}, "y2": {"field": "y2"}}},
{"data": {"name": "b1_heads"}, "mark": {"type": "point", "filled": true, "color": "black", "size": 55, "opacity": 1},
 "encoding": {"y": {"field": "y", "type": "quantitative"}, "shape": {"field": "dir", "type": "nominal", "scale": {"domain": ["up", "down"], "range": ["triangle-up", "triangle-down"]}, "legend": null}}},
{"data": {"name": "b1_lab"}, "mark": {"type": "text", "fontSize": 12, "fontWeight": "bold", "color": "black"},
 "encoding": {"y": {"field": "y", "type": "quantitative"}, "text": {"field": "t"}}},
{"data": {"name": "b1_txt"}, "mark": {"type": "text", "fontSize": 9.5, "fontWeight": "bold", "angle": 270, "align": "center", "baseline": "middle"},
 "encoding": {"y": {"field": "y", "type": "quantitative"}, "text": {"field": "t"}, "fill": {"field": "s", "type": "nominal", "scale": {"domain": ["1ACN", "1H₂O"], "range": ["#0000ff", "#ff0000"]}, "legend": null}}},
{"data": {"name": "b1_brk"}, "mark": {"type": "text", "text": "//", "fontSize": 11, "fontWeight": "bold", "color": "black"},
 "encoding": {"y": {"field": "y", "type": "quantitative"}}}
]
},
{
"width": 287, "height": 231,
"encoding": {
  "x": {"field": "x", "type": "quantitative", "scale": {"domain": [275, 450], "nice": false, "zero": false}, "axis": {"values": [300, 350, 400, 450], "title": "r(Od-H) (Å)", "titlePadding": 10}},
  "y": {"field": "v", "type": "quantitative", "scale": {"domain": [-0.8, 135], "nice": false, "zero": false}, "axis": {"values": [0, 20, 40, 60, 80, 100, 120], "title": "Epsilon (ε)", "titleX": -25, "titleBaseline": "alphabetic", "labelPadding": 10}}
},
"layer": [
{"data": {"name": "b2"}, "transform": [{"filter": "datum.sol == 'ACN'"}], "mark": {"type": "line", "strokeWidth": 2},
 "encoding": {
  "color": {"field": "s", "type": "nominal", "scale": {"domain": ["Aₜ_abs"], "range": ["#00ff00"]}, "legend": {"title": ["(b2)", "1P ACN"], "symbolType": "M-2,0L2,0", "symbolSize": 169, "labelOffset": 10}}
 }},
{"data": {"name": "b2"}, "transform": [{"filter": "datum.sol == 'H2O'"}], "mark": {"type": "line", "strokeWidth": 2, "strokeDash": [5, 3]},
 "encoding": {
  "color": {"field": "s", "type": "nominal", "scale": {"domain": ["Aₜ_abs", "Em"], "range": ["#00ff00", "#ff0000"]}, "legend": {"title": "1P H₂O", "symbolType": "M-2,0L2,0", "symbolSize": 169, "labelOffset": 10, "symbolDash": [4, 2.5]}}
 }},
{"data": {"name": "b2_lab"}, "mark": {"type": "text", "fontSize": 12, "fontWeight": "bold", "color": "black"},
 "encoding": {"y": {"field": "y", "type": "quantitative"}, "text": {"field": "t"}}}
],
"resolve": {"scale": {"color": "independent"}}
}
],
"config": {
 "font": "Liberation Sans",
 "view": {"stroke": "black", "strokeWidth": 1.5},
 "axis": {"grid": false, "domainColor": "black", "domainWidth": 1.5, "tickColor": "black", "tickWidth": 1.2, "tickSize": -4, "labelPadding": 6, "labelFont": "Liberation Sans", "labelFontSize": 10, "labelFontWeight": "bold", "labelColor": "black", "titleFont": "Liberation Sans", "titleFontSize": 13, "titleFontWeight": "bold", "titleColor": "black", "labelFlush": false, "labelOverlap": false, "titlePadding": 3},
 "legend": {"labelFont": "Liberation Sans", "labelFontSize": 12, "labelFontWeight": "bold", "labelColor": "black", "titleFont": "Liberation Sans", "titleFontSize": 12, "titleFontWeight": "bold", "titleColor": "black", "padding": 0, "offset": 4, "rowPadding": 2, "titlePadding": 3, "titleAnchor": "middle", "titleAlign": "center", "orient": "top-right", "symbolStrokeWidth": 2, "titleLimit": 300, "layout": {"top-right": {"direction": "vertical", "anchor": "end", "margin": 3}}},
 "text": {"font": "Liberation Sans", "fontWeight": "bold"}
}
}
